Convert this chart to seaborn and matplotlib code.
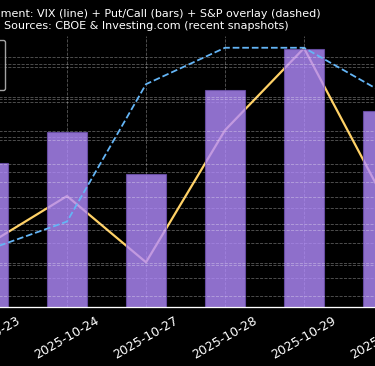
import numpy as np
import matplotlib
matplotlib.use("Agg")
import matplotlib.pyplot as plt
from matplotlib.ticker import MultipleLocator
from matplotlib.lines import Line2D
from matplotlib.patches import Patch
import seaborn as sns

# data
dates = ["2025-10-23", "2025-10-24", "2025-10-27", "2025-10-28", "2025-10-29", "2025-10-30"]
vix = [15.96, 17.33, 15.45, 19.2, 21.53, 17.3]
put_call = [0.69, 0.84, 0.64, 1.04, 1.24, 0.94]
spx = [6768, 6785, 6868, 6890, 6890, 6863]

vix_color = "#FFD166"
bar_color = "#B38CFF"
spx_color = "#64B5F6"

plt.style.use("dark_background")

fig = plt.figure(figsize=(3.75, 3.66), dpi=100)
W, H = 375, 366
# axes box in pixels (wider than the canvas, like the cropped original)
left, right, top, bottom = -51.5, 422.5, 36, 307
ax = fig.add_axes([left / W, (H - bottom) / H, (right - left) / W, (bottom - top) / H])

x = np.arange(len(dates))

# VIX line (primary axis)
sns.lineplot(x=x, y=vix, ax=ax, color=vix_color, linewidth=1.6)
ax.set_ylim(14.18, 21.875)
ax.yaxis.set_major_locator(MultipleLocator(1))

# Put/Call bars
ax_b = ax.twinx()
sns.barplot(x=dates, y=put_call, ax=ax_b, color=bar_color, alpha=0.8,
            width=0.5, edgecolor="#6f52b0", linewidth=0.8, saturation=1)
ax_b.set_ylim(0, 1.3)
ax_b.yaxis.set_major_locator(MultipleLocator(0.2))

# S&P overlay
ax_s = ax.twinx()
sns.lineplot(x=x, y=spx, ax=ax_s, color=spx_color, linewidth=1.3, linestyle="--")
ax_s.set_ylim(6733.4, 6897.1)
ax_s.yaxis.set_major_locator(MultipleLocator(20))

for a in (ax, ax_b, ax_s):
    a.set_xlim(-0.5, len(dates) - 0.5)
    a.grid(True, linestyle="--", linewidth=0.6, alpha=0.35)
    a.spines["top"].set_visible(False)
    a.set_xlabel("")
    a.set_ylabel("")

ax.set_xticks(x)
ax.set_xticklabels(dates, rotation=30)
ax.tick_params(axis="x", length=0, pad=5, labelsize=9, labelbottom=True)

fig.text(146.3 / W, 1 - 31 / H,
         "Sentiment: VIX (line) + Put/Call (bars) + S&P overlay (dashed)\n"
         "Sources: CBOE & Investing.com (recent snapshots)",
         ha="center", va="bottom", fontsize=8)

handles = [
    Line2D([0], [0], color=vix_color, linewidth=1.6, label="VIX"),
    Patch(facecolor=bar_color, alpha=0.8, label="Put/Call"),
    Line2D([0], [0], color=spx_color, linewidth=1.3, linestyle="--", label="S&P 500"),
]
fig.legend(handles=handles, loc="upper right", borderaxespad=0,
           bbox_to_anchor=(5 / W, 1 - 40 / H), fontsize=8)

fig.savefig("out.png", dpi=100)
